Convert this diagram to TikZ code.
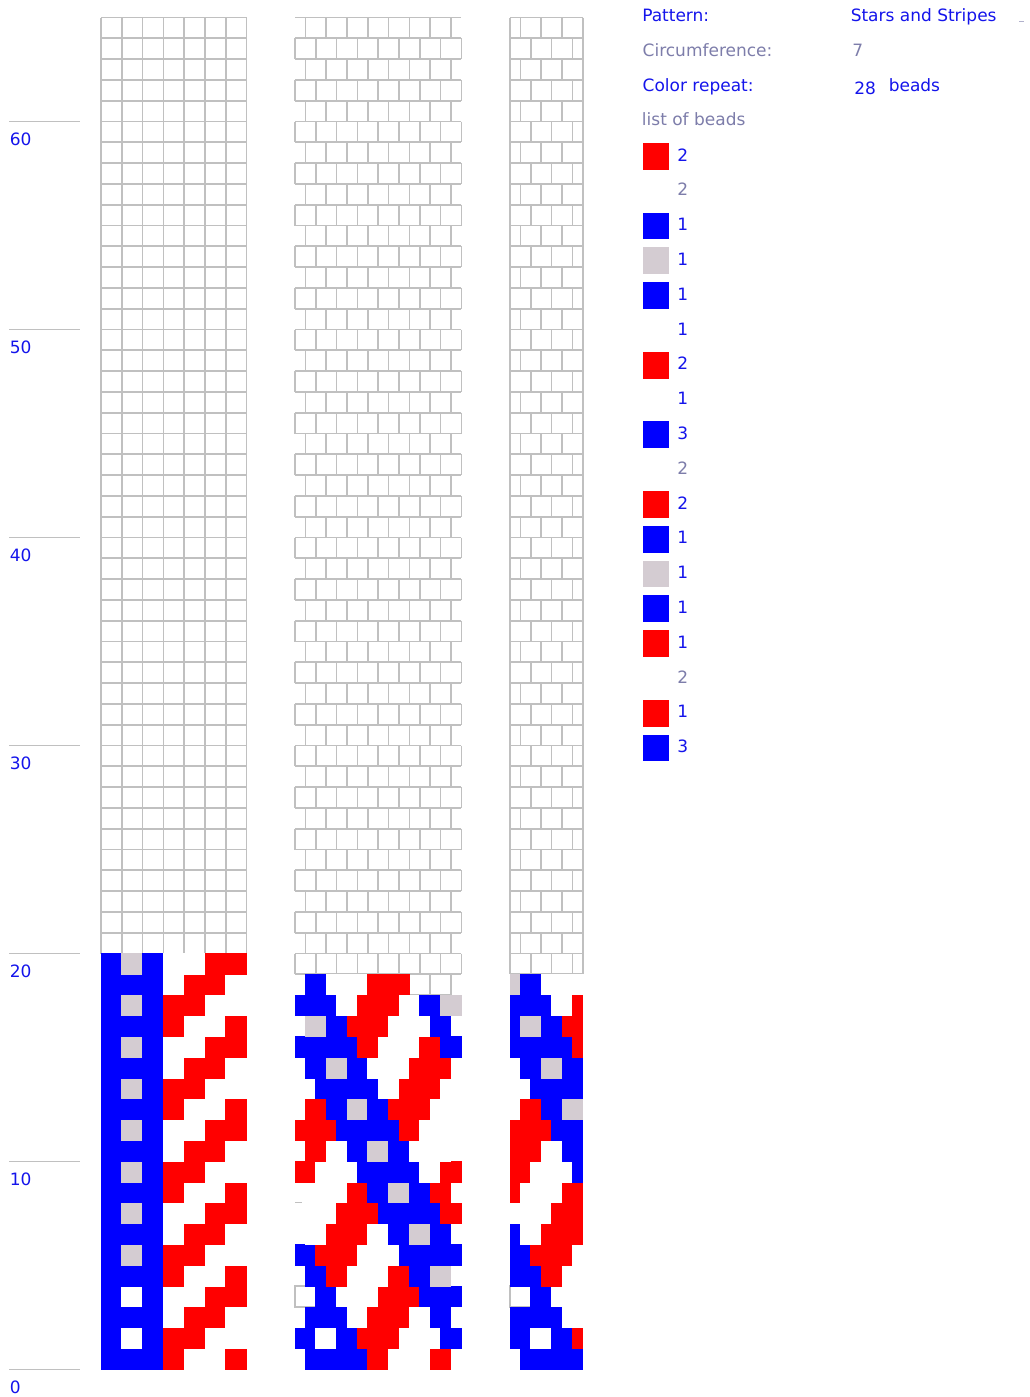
\documentclass[tikz,border=0pt]{standalone}
\usepackage{fontspec}
\setmainfont{DejaVu Sans}
\definecolor{pB}{RGB}{0,0,255}
\definecolor{pR}{RGB}{255,0,0}
\definecolor{pG}{RGB}{212,204,210}
\definecolor{gridc}{RGB}{192,192,192}
\definecolor{txtb}{RGB}{20,20,235}
\definecolor{txtg}{RGB}{125,125,170}
\begin{document}
\begin{tikzpicture}[x=0.75pt,y=-0.75pt,
  gl/.style={draw=gridc,line width=1.3pt,line cap=square},
  axl/.style={draw=gridc,line width=1.1pt},
  cb/.style={fill=pB}, cr/.style={fill=pR}, cg/.style={fill=pG}, cw/.style={fill=white}, ce/.style={},
  txt/.style={inner sep=0pt,anchor=base west,text=txtb,font=\fontsize{12.75pt}{15pt}\selectfont}]
\useasboundingbox (0,0) rectangle (1029,1397);
\def\d{20.8}
\def\yb{1369.5}
\def\o{0.35}

% ---------- empty grids ----------
% draft (left)
\foreach \kk in {20,...,65} \draw[gl] (101,{\yb-\kk*\d}) -- (246.6,{\yb-\kk*\d});
\foreach \x in {0,...,7} \draw[gl] ({101+\x*\d},17.5) -- ({101+\x*\d},953.5);
% corrected (middle)
\foreach \kk in {19,...,65} \draw[gl] (295,{\yb-\kk*\d}) -- (461.4,{\yb-\kk*\d});
\foreach \kk in {19,...,64} {
  \ifodd\kk\relax
    \foreach \j in {0,...,8} \draw[gl] ({295+\j*\d},{\yb-(\kk+1)*\d}) -- ({295+\j*\d},{\yb-\kk*\d});
  \else
    \foreach \j in {0,...,7} \draw[gl] ({305.4+\j*\d},{\yb-(\kk+1)*\d}) -- ({305.4+\j*\d},{\yb-\kk*\d});
  \fi
}
\draw[gl] (409.4,974.3) rectangle (451.0,995.1);
\draw[gl] (430.2,974.3) -- (430.2,995.1);
% simulation (right)
\foreach \kk in {19,...,65} \draw[gl] (510,{\yb-\kk*\d}) -- (582.8,{\yb-\kk*\d});
\foreach \kk in {19,...,64} {
  \draw[gl] (510,{\yb-(\kk+1)*\d}) -- (510,{\yb-\kk*\d});
  \draw[gl] (582.8,{\yb-(\kk+1)*\d}) -- (582.8,{\yb-\kk*\d});
  \ifodd\kk\relax
    \foreach \j in {1,2,3} \draw[gl] ({510+\j*\d},{\yb-(\kk+1)*\d}) -- ({510+\j*\d},{\yb-\kk*\d});
  \else
    \foreach \j in {0,1,2} \draw[gl] ({520.4+\j*\d},{\yb-(\kk+1)*\d}) -- ({520.4+\j*\d},{\yb-\kk*\d});
  \fi
}
% empty beads inside the pattern
\draw[gl] (295,1286.3) rectangle (315.8,1307.1);
\draw[gl] (510,1286.3) rectangle (530.8,1307.1);
\draw[gl] (295,1203.1) -- (302,1203.1);
\draw[gl] (295,1244.7) -- (302,1244.7);

% ---------- draft beads ----------
\foreach \row [count=\rw from 0] in {
 {cb,cb,cb,cr,cw,cw,cr},{cb,cw,cb,cr,cr,cw,cw},{cb,cb,cb,cw,cr,cr,cw},{cb,cw,cb,cw,cw,cr,cr},
 {cb,cb,cb,cr,cw,cw,cr},{cb,cg,cb,cr,cr,cw,cw},{cb,cb,cb,cw,cr,cr,cw},{cb,cg,cb,cw,cw,cr,cr},
 {cb,cb,cb,cr,cw,cw,cr},{cb,cg,cb,cr,cr,cw,cw},{cb,cb,cb,cw,cr,cr,cw},{cb,cg,cb,cw,cw,cr,cr},
 {cb,cb,cb,cr,cw,cw,cr},{cb,cg,cb,cr,cr,cw,cw},{cb,cb,cb,cw,cr,cr,cw},{cb,cg,cb,cw,cw,cr,cr},
 {cb,cb,cb,cr,cw,cw,cr},{cb,cg,cb,cr,cr,cw,cw},{cb,cb,cb,cw,cr,cr,cw},{cb,cg,cb,cw,cw,cr,cr}} {
  \foreach \c [count=\x from 0] in \row {
    \path[\c] ({101+\x*\d-\o},{\yb-(\rw+1)*\d-\o}) rectangle ({101+(\x+1)*\d+\o},{\yb-\rw*\d+\o});
  }
}

% ---------- corrected beads ----------
\foreach \row [count=\kk from 0] in {
 {cb,cb,cb,cr,cw,cw,cr},{cb,cw,cb,cr,cr,cw,cw,cb},{cb,cb,cw,cr,cr,cw,cb},{ce,cb,cw,cw,cr,cr,cb,cb},
 {cb,cr,cw,cw,cr,cb,cg},{cb,cr,cr,cw,cw,cb,cb,cb},{cw,cr,cr,cw,cb,cg,cb},{cw,cw,cr,cr,cb,cb,cb,cr},
 {cw,cw,cr,cb,cg,cb,cr},{cr,cw,cw,cb,cb,cb,cw,cr},{cr,cw,cb,cg,cb,cw,cw},{cr,cr,cb,cb,cb,cr,cw,cw},
 {cr,cb,cg,cb,cr,cr,cw},{cw,cb,cb,cb,cw,cr,cr,cw},{cb,cg,cb,cw,cw,cr,cr},{cb,cb,cb,cr,cw,cw,cr,cb},
 {cg,cb,cr,cr,cw,cw,cb},{cb,cb,cw,cr,cr,cw,cb,cg},{cb,cw,cw,cr,cr}} {
  \ifodd\kk\relax \def\sh{0}\else\def\sh{10.4}\fi
  \foreach \c [count=\x from 0] in \row {
    \path[\c] ({295+\sh+\x*\d-\o},{\yb-(\kk+1)*\d-\o}) rectangle ({295+\sh+(\x+1)*\d+\o},{\yb-\kk*\d+\o});
  }
}

% ---------- simulation beads ----------
\foreach \row [count=\kk from 0] in {
 {cw,cb,cb,cb},{cb,cw,cb,cr},{cb,cb,cb,cw},{ce,cb,cw,cw},{cb,cb,cr,cw},{cb,cr,cr,cw},
 {cb,cw,cr,cr},{cw,cw,cr,cr},{cr,cw,cw,cr},{cr,cw,cw,cb},{cr,cr,cw,cb},{cr,cr,cb,cb},
 {cw,cr,cb,cg},{cw,cb,cb,cb},{cw,cb,cg,cb},{cb,cb,cb,cr},{cb,cg,cb,cr},{cb,cb,cw,cr},{cg,cb,cw,cw}} {
  \ifodd\kk\relax \def\sh{0}\else\def\sh{10.4}\fi
  \foreach \c [count=\j from 0] in \row {
    \pgfmathsetmacro\xa{max(510,510-\sh+\j*\d)-\o}
    \pgfmathsetmacro\xb{min(582.8,510-\sh+(\j+1)*\d)+\o}
    \path[\c] (\xa,{\yb-(\kk+1)*\d-\o}) rectangle (\xb,{\yb-\kk*\d+\o});
  }
}

% ---------- row scale ----------
\foreach \m in {0,...,6} {
  \pgfmathtruncatemacro\lab{10*\m}
  \draw[axl] (9,{\yb-208*\m}) -- (80,{\yb-208*\m});
  \node[txt] (ax\m) at (9.5,{\yb-208*\m+23.5}) {\lab};
}

% ---------- report ----------
\node[txt] (patl) at (642,21.5) {Pattern:};
\node[txt] (patv) at (850.5,21.5) {Stars and Stripes};
\draw[draw=txtg!60,line width=1.1pt] (1019,21.5) -- (1024,21.5);
\node[txt,text=txtg] (circl) at (642.4,56.3) {Circumference:};
\node[txt,text=txtg] (circv) at (852,56.3) {7};
\node[txt] (repl) at (642.4,91.1) {Color repeat:};
\node[txt] (repn) at (854,94.5) {28};
\node[txt] (repu) at (888.5,91.1) {beads};
\node[txt,text=txtg] (listl) at (641.7,125.9) {list of beads};

\foreach \col/\n/\tc [count=\i from 0] in {pR/2/txtb, none/2/txtg, pB/1/txtb, pG/1/txtb, pB/1/txtb, none/1/txtb,
  pR/2/txtb, none/1/txtb, pB/3/txtb, none/2/txtg, pR/2/txtb, pB/1/txtb, pG/1/txtb, pB/1/txtb, pR/1/txtb,
  none/2/txtg, pR/1/txtb, pB/3/txtb} {
  \pgfmathsetmacro\cy{154+34.8*\i}
  \path[fill=\col] (642.7,{\cy-11}) rectangle (669.3,{\cy+15.7});
  \node[txt,text=\tc] (cnt\i) at (677,{\cy+7}) {\n};
}
\end{tikzpicture}
\end{document}
